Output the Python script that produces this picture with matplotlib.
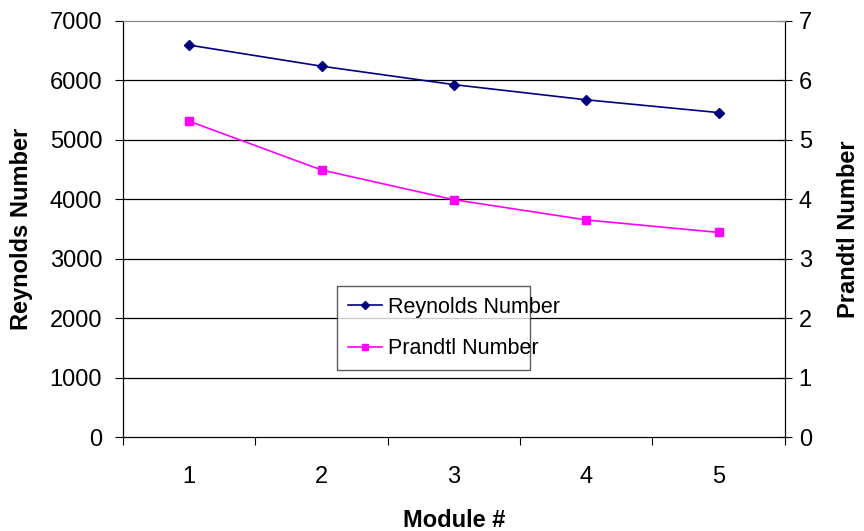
import matplotlib.pyplot as plt
import numpy as np

modules = [1, 2, 3, 4, 5]
reynolds = [6590, 6235, 5925, 5670, 5455]
prandtl = [5.31, 4.49, 3.99, 3.65, 3.44]
left_ticks = [0, 1000, 2000, 3000, 4000, 5000, 6000, 7000]
right_ticks = [0, 1, 2, 3, 4, 5, 6, 7]

plt.rcParams['font.family'] = ['Liberation Sans', 'DejaVu Sans']

fig = plt.figure(figsize=(8.64, 5.31), dpi=100)
ax = fig.add_axes([0.1424, 0.177, 0.766, 0.784])
ax2 = ax.twinx()

ax.set_xlim(0.5, 5.5)
ax.set_ylim(0, 7000)
ax2.set_ylim(0, 7)
ax.set_yticks(left_ticks)
ax2.set_yticks(right_ticks)

# category axis: tick marks between categories, labels centred
ax.set_xticks(np.arange(0.5, 6, 1.0))
ax.set_xticklabels([])
ax.set_xticks(modules, minor=True)
ax.set_xticklabels([str(m) for m in modules], minor=True)
ax.tick_params(axis='x', which='minor', length=0, pad=21, labelsize=17)
ax.tick_params(axis='x', which='major', direction='out', length=6)
ax.tick_params(axis='y', direction='out', length=6, labelsize=17, pad=9)
ax2.tick_params(axis='y', direction='inout', length=10, labelsize=17, pad=5)

for t in left_ticks[1:-1]:
    ax.axhline(t, color='black', lw=0.9, zorder=0)
ax.spines['top'].set_color('#888888')
ax2.spines['top'].set_color('#888888')

l1, = ax.plot(modules, reynolds, color='#000080', marker='D', markersize=5,
              lw=1.2, label='Reynolds Number')
l2, = ax2.plot(modules, prandtl, color='#ff00ff', marker='s', markersize=6,
               lw=1.2, label='Prandtl Number')

ax.set_xlabel('Module #', fontsize=17, fontweight='bold')
ax.xaxis.set_label_coords(0.5, -0.172)
ax.set_ylabel('Reynolds Number', fontsize=17, fontweight='bold')
ax.yaxis.set_label_coords(-0.136, 0.5)
ax2.set_ylabel('Prandtl Number', fontsize=17, fontweight='bold')
ax2.yaxis.set_label_coords(1.079, 0.5)

leg = ax2.legend([l1, l2], ['Reynolds Number', 'Prandtl Number'],
                 loc='lower left', bbox_to_anchor=(0.323, 0.161, 0.292, 0.221),
                 mode='expand', fontsize=15.5, frameon=True, fancybox=False,
                 borderpad=0.5, labelspacing=0.95, handlelength=1.6,
                 handletextpad=0.3, borderaxespad=0, markerscale=0.8)
leg.get_frame().set_edgecolor('#333333')
leg.get_frame().set_linewidth(1.0)

fig.savefig('out.png', dpi=100)
